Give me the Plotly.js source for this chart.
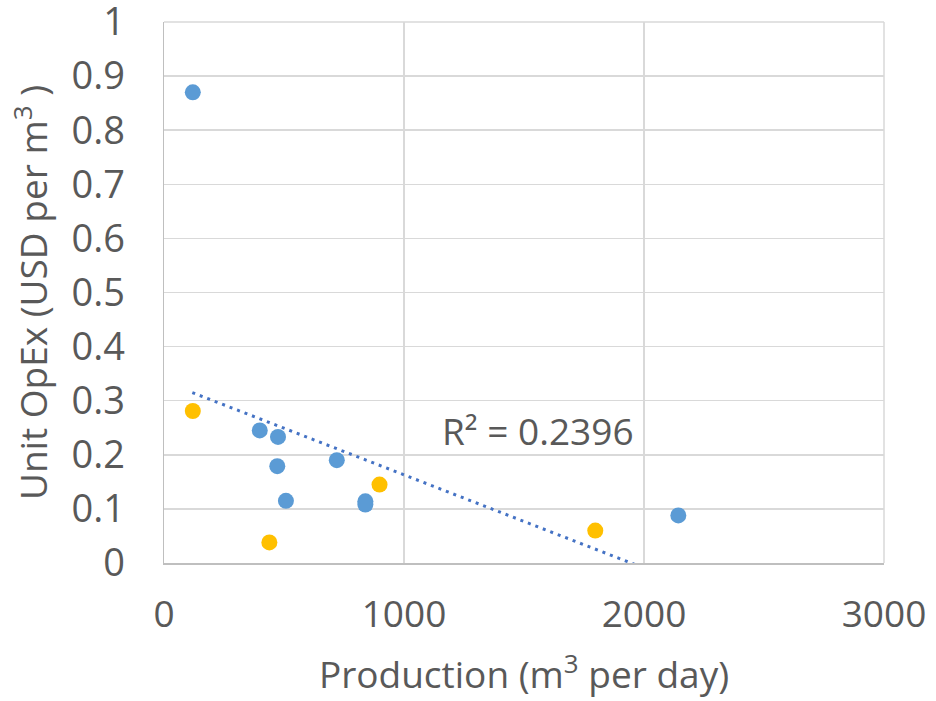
<!DOCTYPE html>
<html>
<head>
<meta charset="utf-8">
<script src="https://cdn.plot.ly/plotly-3.0.1.min.js"></script>
<style>html,body{margin:0;padding:0;background:#fff;}#chart{width:936px;height:701px;}</style>
</head>
<body>
<div id="chart"></div>
<script>
// Blue series
const blueX = [120, 399, 475, 472, 508, 720, 839, 839, 2143];
const blueY = [0.870, 0.245, 0.233, 0.179, 0.115, 0.190, 0.114, 0.108, 0.088];
// Orange series
const orangeX = [120, 439, 898, 1797];
const orangeY = [0.281, 0.038, 0.145, 0.060];
// Linear trendline endpoints (clipped at y=0 by axis)
const trendX = [118, 2143];
const trendY = [0.315, -0.034];
const r2Label = "R² = 0.2396";
const r2Pos = [1560, 0.245];
const xTicks = [0, 1000, 2000, 3000];
const yTicks = [0, 0.1, 0.2, 0.3, 0.4, 0.5, 0.6, 0.7, 0.8, 0.9, 1];
const yTickText = ["0", "0.1", "0.2", "0.3", "0.4", "0.5", "0.6", "0.7", "0.8", "0.9", "1"];

const FONT = '"Open Sans", "Noto Sans", sans-serif';
const TXT = '#595959';
const GRID = '#d9d9d9';

const traces = [
  {x: trendX, y: trendY, mode: 'lines', type: 'scatter',
   line: {color: '#4472c4', width: 3, dash: '3px,5px'}, hoverinfo: 'skip'},
  {x: blueX, y: blueY, mode: 'markers', type: 'scatter',
   marker: {color: '#5b9bd5', size: 16, line: {width: 0}}},
  {x: orangeX, y: orangeY, mode: 'markers', type: 'scatter',
   marker: {color: '#ffc000', size: 16, line: {width: 0}}}
];

const layout = {
  width: 936, height: 701,
  margin: {l: 164, r: 52, t: 22, b: 138},
  paper_bgcolor: '#fff', plot_bgcolor: '#fff',
  showlegend: false,
  font: {family: FONT, color: TXT, size: 37},
  xaxis: {
    range: [0, 3000], tickvals: xTicks, ticktext: xTicks.map(String),
    showgrid: true, gridcolor: GRID, gridwidth: 1.5,
    zeroline: false, showline: true, linecolor: '#bfbfbf', linewidth: 1.5,
    ticks: '', ticklabelstandoff: 18, ticklabeloverflow: 'allow',
    tickfont: {family: FONT, size: 37, color: TXT},
    title: {text: 'Production (m<sup>3</sup> per day)', font: {family: FONT, size: 37, color: TXT}, standoff: 25},
    automargin: false, fixedrange: true
  },
  yaxis: {
    range: [0, 1], tickvals: yTicks, ticktext: yTickText,
    showgrid: true, gridcolor: GRID, gridwidth: 1.5,
    zeroline: false, showline: true, linecolor: '#bfbfbf', linewidth: 1.5,
    ticks: '', ticklabelstandoff: 30, ticklabeloverflow: 'allow',
    tickfont: {family: FONT, size: 38, color: TXT},
    title: {text: 'Unit OpEx (USD per m<sup>3</sup> )', font: {family: FONT, size: 37, color: TXT}, standoff: 12},
    automargin: false, fixedrange: true
  },
  shapes: [
    {type: 'line', xref: 'paper', yref: 'paper', x0: 0, x1: 1, y0: 1, y1: 1, line: {color: GRID, width: 1.5}, layer: 'below'},
    {type: 'line', xref: 'paper', yref: 'paper', x0: 1, x1: 1, y0: 0, y1: 1, line: {color: GRID, width: 1.5}, layer: 'below'}
  ],
  annotations: [{
    xref: 'x', yref: 'y', x: r2Pos[0], y: r2Pos[1], text: r2Label, showarrow: false,
    xanchor: 'center', yanchor: 'middle', font: {family: FONT, size: 37, color: TXT}
  }]
};

Plotly.newPlot('chart', traces, layout, {displayModeBar: false, staticPlot: true});
</script>
</body>
</html>
